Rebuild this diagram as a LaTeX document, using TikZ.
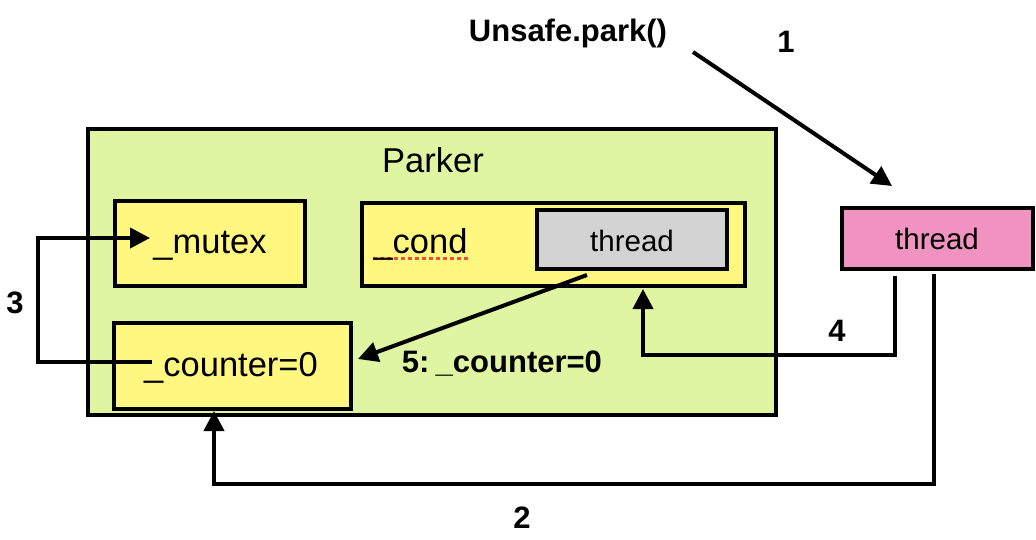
\documentclass[tikz,border=0pt]{standalone}
\usepackage{fontspec}
\setmainfont{Liberation Sans}
\usetikzlibrary{arrows.meta}
\definecolor{parkergreen}{RGB}{223,245,162}
\definecolor{boxyellow}{RGB}{255,247,128}
\definecolor{threadgray}{RGB}{211,211,211}
\definecolor{threadpink}{RGB}{240,147,193}
\definecolor{spellred}{RGB}{235,80,60}
\begin{document}
\begin{tikzpicture}[x=1pt,y=-1pt,
  box/.style={draw=black, line width=4pt, inner sep=0pt, outer sep=0pt},
  lbl/.style={anchor=base, inner sep=0pt, font=\fontsize{34.5}{40}\selectfont},
  thr/.style={anchor=base, inner sep=0pt, font=\fontsize{29.5}{34}\selectfont},
  num/.style={anchor=base, inner sep=0pt, font=\fontsize{31}{36}\selectfont\bfseries},
  conn/.style={line width=4pt, -{Triangle[length=20pt,width=20pt]}}]
\useasboundingbox (0,0) rectangle (1036,540);
% boxes
\node[box, fill=parkergreen, minimum width=688pt, minimum height=286pt] (parker) at (432,272) {};
\node[box, fill=boxyellow, minimum width=190pt, minimum height=85pt] (mutex) at (210,243.5) {};
\node[box, fill=boxyellow, minimum width=237pt, minimum height=86pt] (counter) at (232.5,365.5) {};
\node[box, fill=boxyellow, minimum width=383pt, minimum height=83pt] (cond) at (553.5,244.5) {};
\node[box, fill=threadgray, minimum width=190pt, minimum height=59pt] (gthread) at (632,239.5) {};
\node[box, fill=threadpink, minimum width=191pt, minimum height=61pt] (pthread) at (937.5,238.5) {};
% texts
\node[lbl] (parkertxt) at (433,173) {Parker};
\node[lbl] (mutextxt) at (210,254) {\_mutex};
\node[lbl] (countertxt) at (231,376) {\_counter=0};
\draw[spellred, line width=3pt, dash pattern=on 4pt off 3pt] (373,258.5) -- (468,258.5);
\node[lbl] (condtxt) at (420.5,253) {\_cond};
\node[thr] (gthreadtxt) at (632,251.5) {thread};
\node[thr] (pthreadtxt) at (937,250) {thread};
\node[num] (unsafe) at (568,42) {Unsafe.park()};
\node[num] (step5) at (502,372) {5:\hspace{0.2em}\_counter=0};
\node[num] (n1) at (786,53) {1};
\node[num] (n2) at (522,528) {2};
\node[num] (n3) at (15,313) {3};
\node[num] (n4) at (837,341) {4};
% connector end points
\coordinate (a1s) at (693,52);
\coordinate (a1e) at (892,186);
\coordinate (a2s) at (934,274);
\coordinate (a2e) at (214,411);
\coordinate (a3s) at (152,362);
\coordinate (a3e) at (150,238);
\coordinate (a4s) at (895,276);
\coordinate (a4e) at (643,289);
\coordinate (a5s) at (587,275);
\coordinate (a5e) at (358,359);
% connectors
\draw[conn] (a1s) -- (a1e);
\draw[conn] (a2s) -- (934,484) -- (214,484) -- (a2e);
\draw[conn] (a3s) -- (38,362) -- (38,238) -- (a3e);
\draw[conn] (a4s) -- (895,355) -- (643,355) -- (a4e);
\draw[conn] (a5s) -- (a5e);
\end{tikzpicture}
\end{document}
